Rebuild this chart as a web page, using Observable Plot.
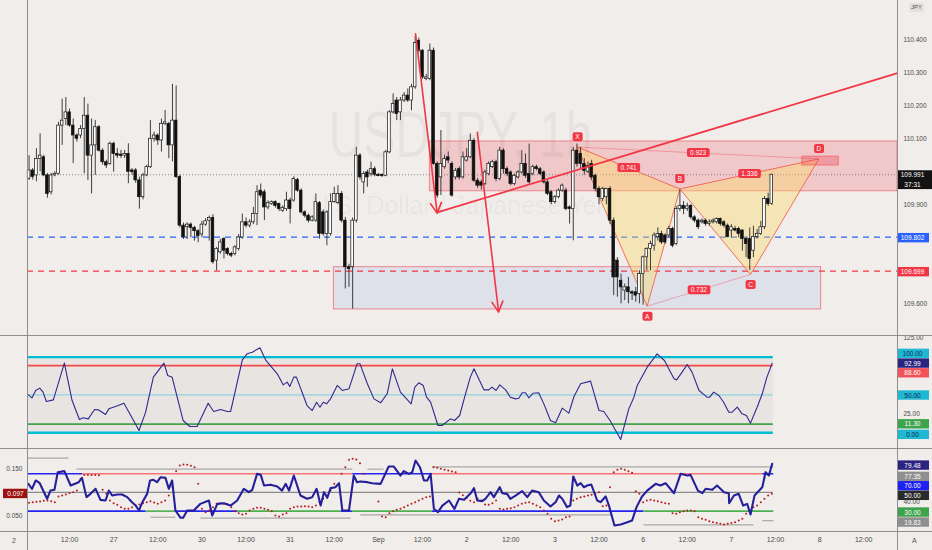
<!DOCTYPE html>
<html>
<head>
<meta charset="utf-8">
<script src="https://cdn.jsdelivr.net/npm/d3@7"></script>
<script src="https://cdn.jsdelivr.net/npm/@observablehq/plot@0.6"></script>
<style>
  html,body{margin:0;padding:0;background:#f0edeb;}
  #chart{position:relative;width:932px;height:550px;background:#f0edeb;overflow:hidden;font-family:"Liberation Sans",Arial,sans-serif;}
  .pane{position:absolute;left:0;}
  .pane svg{display:block;background:transparent;}
  .hl{position:absolute;left:0;width:932px;height:1px;background:#8f8f8f;}
  .vl{position:absolute;top:0;width:1px;height:550px;background:#8f8f8f;}
  .lbl{position:absolute;font-size:7px;color:#555;line-height:9px;}
</style>
</head>
<body>
<div id="chart"></div>
<script>
// ---------------- DATA ----------------
// hourly candles [open, high, low, close], first candle index = 1 (index 0 = Aug 26 00:00)
const candleStart = 1;
const candles = [
 [109.979,110.049,109.974,110.004],[110.004,110.010,109.975,109.984],[109.989,110.070,109.970,110.039],[110.039,110.115,110.000,110.049],[110.044,110.050,109.985,109.989],
 [109.989,109.995,109.920,109.933],[109.938,109.995,109.930,109.989],[109.989,110.000,109.985,109.994],[109.994,110.150,109.990,110.140],[110.140,110.220,110.080,110.155],
 [110.160,110.225,110.140,110.180],[110.180,110.190,110.135,110.140],[110.140,110.160,110.025,110.110],[110.110,110.115,110.090,110.100],[110.110,110.140,110.100,110.130],
 [110.130,110.225,109.994,110.170],[110.170,110.205,109.974,110.049],[110.049,110.160,109.933,110.080],[110.080,110.155,109.989,110.135],[110.135,110.140,110.060,110.064],
 [110.064,110.070,110.020,110.029],[110.029,110.035,110.010,110.019],[110.024,110.090,110.020,110.085],[110.085,110.090,109.999,110.054],[110.054,110.070,110.040,110.049],
 [110.052,110.065,110.040,110.048],[110.049,110.065,110.040,110.054],[110.054,110.085,109.964,110.000],[110.004,110.010,109.990,109.999],[110.004,110.010,109.965,109.974],
 [109.974,109.984,109.887,109.923],[109.923,109.995,109.915,109.989],[109.989,110.020,109.985,110.014],[110.014,110.155,110.010,110.100],[110.100,110.120,110.090,110.110],
 [110.110,110.115,110.080,110.095],[110.095,110.160,110.060,110.145],[110.145,110.186,110.140,110.150],[110.145,110.150,110.040,110.080],[110.080,110.265,110.030,110.155],
 [110.155,110.260,109.980,109.984],[109.984,109.990,109.830,109.837],[109.837,109.845,109.795,109.802],[109.832,109.845,109.795,109.840],[109.840,109.845,109.800,109.830],
 [109.830,109.835,109.790,109.820],[109.820,109.825,109.785,109.805],[109.810,109.850,109.800,109.840],[109.840,109.858,109.835,109.850],[109.852,109.866,109.790,109.860],
 [109.860,109.870,109.720,109.726],[109.731,109.771,109.700,109.766],[109.756,109.795,109.750,109.786],[109.796,109.800,109.736,109.761],[109.766,109.770,109.745,109.751],
 [109.751,109.756,109.740,109.746],[109.751,109.776,109.745,109.771],[109.766,109.810,109.760,109.801],[109.801,109.872,109.796,109.847],[109.847,109.860,109.830,109.837],
 [109.837,109.855,109.830,109.847],[109.847,109.892,109.840,109.872],[109.872,109.958,109.837,109.938],[109.943,109.963,109.920,109.928],[109.938,109.945,109.852,109.892],
 [109.892,109.912,109.885,109.905],[109.902,109.912,109.898,109.908],[109.908,109.912,109.890,109.897],[109.902,109.905,109.880,109.887],[109.882,109.897,109.877,109.890],
 [109.887,109.938,109.880,109.913],[109.913,109.920,109.842,109.887],[109.913,109.985,109.908,109.978],[109.975,109.980,109.938,109.943],[109.943,109.948,109.872,109.877],
 [109.877,109.882,109.860,109.867],[109.867,109.872,109.845,109.852],[109.852,109.867,109.848,109.862],[109.852,109.933,109.847,109.908],[109.905,109.910,109.796,109.812],
 [109.877,109.885,109.805,109.812],[109.812,109.882,109.776,109.877],[109.812,109.933,109.805,109.908],[109.908,109.953,109.905,109.933],[109.905,109.958,109.900,109.933],
 [109.933,109.940,109.845,109.852],[109.852,109.862,109.645,109.711],[109.711,109.720,109.650,109.705],[109.711,109.860,109.584,109.852],[109.852,110.074,109.845,110.049],
 [110.049,110.055,109.975,109.983],[109.968,110.000,109.933,109.993],[109.998,110.005,109.953,109.983],[109.993,110.029,109.985,110.008],[110.008,110.015,109.985,109.991],
 [109.991,109.995,109.985,109.987],[109.991,109.993,109.983,109.987],[109.988,110.065,109.985,110.059],[110.059,110.185,110.055,110.180],[110.180,110.236,110.175,110.205],
 [110.216,110.225,110.155,110.175],[110.180,110.225,110.155,110.216],[110.216,110.240,110.210,110.231],[110.231,110.251,110.210,110.216],[110.216,110.265,110.185,110.256],
 [110.256,110.410,110.250,110.390],[110.397,110.405,110.360,110.367],[110.367,110.370,110.280,110.286],[110.281,110.295,110.276,110.286],[110.281,110.387,110.276,110.367],
 [110.367,110.375,110.020,110.024],[110.024,110.030,109.920,109.928],[109.983,110.125,109.928,110.024],[110.014,110.050,110.008,110.039],[110.044,110.060,110.025,110.034],
 [110.024,110.030,109.923,109.928],[109.983,110.010,109.975,110.003],[110.008,110.015,109.975,109.983],[109.983,110.060,109.978,110.044],[110.034,110.070,110.030,110.044],
 [110.044,110.115,110.040,110.094],[110.094,110.100,109.968,109.973],[109.973,109.980,109.950,109.958],[109.968,109.975,109.945,109.958],[109.963,110.005,109.958,109.998],
 [109.993,110.030,109.988,110.024],[110.014,110.035,110.010,110.029],[110.029,110.035,109.970,109.978],[109.978,110.074,109.973,110.064],[110.064,110.070,109.993,110.008],
 [110.008,110.015,109.985,109.993],[109.998,110.003,109.958,109.963],[109.963,109.993,109.958,109.988],[109.983,110.003,109.978,109.998],[109.998,110.064,109.993,110.024],
 [110.024,110.054,109.980,109.988],[109.993,110.084,109.963,109.968],[109.993,110.020,109.988,110.014],[110.014,110.020,110.003,110.008],[110.008,110.013,109.988,109.993],
 [109.998,110.003,109.963,109.968],[109.968,109.973,109.928,109.933],[109.938,109.943,109.900,109.908],[109.908,109.928,109.902,109.923],[109.923,109.948,109.918,109.943],
 [109.943,109.963,109.938,109.958],[109.943,109.950,109.882,109.887],[109.892,109.897,109.842,109.887],[109.887,110.074,109.791,110.064],[110.064,110.084,110.014,110.024],
 [110.054,110.074,110.010,110.024],[110.024,110.040,109.990,110.003],[110.000,110.030,109.995,110.018],[110.024,110.035,109.975,109.983],[109.988,109.993,109.940,109.948],
 [109.948,109.955,109.900,109.923],[109.918,109.953,109.910,109.948],[109.923,109.950,109.900,109.948],[109.948,109.955,109.840,109.852],[109.852,109.860,109.625,109.680],
 [109.731,109.740,109.620,109.680],[109.670,109.690,109.600,109.650],[109.640,109.660,109.610,109.650],[109.650,109.680,109.600,109.635],[109.635,109.640,109.610,109.631],
 [109.635,109.650,109.605,109.625],[109.630,109.700,109.600,109.690],[109.690,109.745,109.596,109.741],[109.741,109.770,109.700,109.766],[109.766,109.790,109.700,109.781],
 [109.776,109.815,109.760,109.807],[109.802,109.830,109.790,109.812],[109.812,109.820,109.780,109.786],[109.807,109.812,109.780,109.786],[109.807,109.835,109.800,109.827],
 [109.827,109.832,109.770,109.776],[109.781,109.895,109.776,109.887],[109.887,109.945,109.880,109.897],[109.897,109.910,109.870,109.887],[109.888,109.905,109.880,109.895],
 [109.897,109.900,109.855,109.862],[109.862,109.867,109.845,109.852],[109.852,109.857,109.825,109.832],[109.847,109.857,109.842,109.852],[109.852,109.857,109.835,109.842],
 [109.842,109.855,109.835,109.847],[109.847,109.857,109.842,109.852],[109.847,109.860,109.842,109.857],[109.857,109.860,109.835,109.842],[109.847,109.852,109.830,109.837],
 [109.837,109.842,109.800,109.802],[109.822,109.840,109.800,109.832],[109.827,109.835,109.818,109.822],[109.827,109.832,109.800,109.812],[109.822,109.825,109.760,109.796],
 [109.796,109.800,109.740,109.781],[109.796,109.830,109.701,109.736],[109.761,109.835,109.740,109.802],[109.802,109.825,109.796,109.812],[109.812,109.850,109.807,109.832],
 [109.832,109.925,109.825,109.918],[109.918,109.935,109.895,109.902],[109.902,109.993,109.898,109.991]
];

// price axis & levels (ticks hidden under value tags are left out)
const priceTicks = [109.6, 109.9, 110.1, 110.2, 110.3, 110.4];
const hLevels = [109.991, 109.802, 109.699];          // last price, blue level, red level
const priceTagValues = [109.991, 109.802, 109.699];
const countdown = "37:31";

// zones (bar index range, price range)
const supplyZoneIdx = [110.0, 237.18];
const supplyZonePrice = [109.941, 110.092];
const demandZoneIdx = [83.9, 216.4];
const demandZonePrice = [109.583, 109.711];
const dZoneIdx = [211.3, 221.2];
const dZonePrice = [110.019, 110.046];

// arrows and trend line [idx1, price1, idx2, price2]
const arrowLines = [[106.1, 110.418, 112.0, 109.874], [122.9, 110.120, 128.7, 109.575]];
const trendLine = [[112.0, 109.877, 237.18, 110.299]];

// harmonic pattern
const patternNames = ["X", "A", "B", "C", "D"];
const patternIdx = [150.1, 169.1, 178.0, 197.2, 215.8];
const patternPrice = [110.075, 109.593, 109.948, 109.689, 110.039];
const ratioPairs = [[0, 2], [1, 3], [2, 4], [0, 4]];
const ratioLabels = ["0.741", "0.732", "1.336", "0.923"];
const thinPairs = [[1, 3], [0, 4]];

// watermark
const watermark = ["USDJPY, 1h", "U.S. Dollar / Japanese Yen"];

// oscillator 1 (0..100) [barIndex, value]
const rsiLevels = [100, 88.6, 50, 11.3, 0];
const rsiTicks = [25, 125];
const rsiTagValues = [100, 92.99, 88.60, 50, 11.30, 0];
const rsiPoints = [
 [0.8,50.1],[1.8,46.2],[2.8,55.9],[3.9,59.0],[4.8,53.7],[5.7,41.3],[7.6,43.5],[10.6,92.0],[12.7,42.6],[14.7,17.6],
 [15.7,19.8],[17.1,18.4],[18.8,30.8],[19.8,30.3],[21.8,24.2],[22.7,31.6],[24.5,34.7],[26.8,39.1],[29.0,19.8],[30.9,3.0],
 [32.7,27.2],[34.8,73.5],[37.7,92.0],[38.7,75.7],[39.9,73.5],[42.9,16.2],[44.7,8.3],[46.7,8.3],[49.7,39.1],[51.2,28.1],
 [53.1,30.8],[54.9,28.1],[55.8,28.1],[59.0,96.4],[60.3,104.3],[61.7,106.5],[63.8,112.2],[65.3,96.4],[68.5,77.9],[70.1,63.3],
 [71.2,66.9],[71.9,61.1],[73.0,73.5],[73.7,73.5],[76.6,36.0],[78.0,29.4],[79.2,40.4],[80.1,33.8],[81.0,40.4],[81.9,38.2],
 [83.0,44.8],[84.8,62.5],[86.2,55.9],[88.0,58.1],[90.2,91.1],[91.0,91.1],[93.0,64.7],[94.8,44.8],[96.6,39.6],[98.4,51.5],
 [99.8,84.5],[102.0,53.7],[104.9,38.2],[105.9,60.3],[107.0,66.0],[108.2,62.5],[109.1,47.0],[110.2,40.4],[112.2,9.6],[113.3,9.6],
 [115.6,18.4],[116.7,16.2],[118.1,22.8],[119.7,51.5],[121.0,73.5],[122.0,84.5],[124.7,56.7],[126.0,56.7],[126.9,60.3],[128.0,55.9],
 [129.0,63.3],[130.6,56.7],[131.9,47.0],[133.3,44.8],[134.2,45.7],[135.1,52.8],[136.0,52.8],[136.9,46.2],[138.1,52.3],[139.6,52.8],
 [141.0,38.2],[142.8,16.2],[144.2,13.2],[146.0,32.5],[147.8,25.9],[149.2,47.9],[151.0,64.7],[153.7,68.2],[156.0,29.4],[157.3,28.1],
 [159.0,16.2],[161.9,-8.9],[164.1,31.6],[165.5,47.0],[166.4,62.5],[169.1,86.7],[171.8,104.3],[173.8,95.5],[176.4,71.3],[177.1,69.9],
 [178.6,80.1],[180.0,90.2],[181.3,80.1],[183.2,55.9],[185.4,47.0],[186.1,47.0],[187.2,53.7],[188.6,49.2],[189.9,40.4],[191.3,27.2],
 [192.2,27.2],[193.6,33.8],[194.9,25.0],[196.1,22.8],[197.2,12.7],[199.0,33.8],[200.4,51.5],[201.6,72.6],[203.1,92.0]
];

// oscillator 2 [barIndex, value]
const oscLevels = [70, 50, 30];
const oscTicks = [40];
const oscTagValues = [79.48, 77.35, 70, 50, 30, 19.83];
const leftTicks = [0.050, 0.150];
const leftScale = 500;
const leftTagValue = 0.097;
const oscPoints = [
 [0.8,59.2],[1.8,53.9],[2.8,62.8],[3.9,59.9],[5.9,43.2],[6.8,52.0],[7.9,52.8],[8.8,71.7],[10.6,72.8],[12.3,57.4],
 [14.5,61.0],[15.4,65.6],[16.6,45.0],[17.7,48.5],[19.1,53.9],[20.4,42.1],[21.8,41.4],[22.7,52.0],[23.6,46.7],[25.0,47.8],
 [26.3,47.8],[27.7,45.0],[29.0,39.6],[30.0,36.0],[30.9,30.7],[31.8,39.6],[33.1,48.5],[33.9,62.8],[34.8,63.5],[35.8,61.0],
 [36.8,66.3],[38.1,65.6],[39.0,53.9],[39.9,62.8],[40.8,30.7],[42.2,22.9],[42.9,22.9],[44.0,30.7],[45.8,30.7],[47.6,37.8],
 [49.9,41.4],[50.8,25.3],[52.2,37.8],[54.0,38.5],[55.8,36.0],[57.6,41.4],[59.4,53.9],[60.8,50.3],[61.7,52.8],[63.0,69.9],
 [64.0,68.8],[64.9,57.4],[66.7,58.2],[68.5,56.4],[69.8,52.0],[70.8,59.2],[71.7,52.0],[73.0,68.1],[74.8,46.7],[76.6,43.2],
 [78.0,45.0],[79.2,53.9],[80.3,36.0],[81.2,50.3],[82.1,44.3],[83.0,54.6],[84.3,55.6],[85.3,59.9],[86.2,30.7],[88.0,30.7],
 [89.3,68.1],[90.2,61.0],[91.1,61.7],[93.0,61.0],[94.3,59.9],[96.6,59.2],[98.8,77.7],[100.2,77.7],[102.0,68.1],[102.9,72.8],
 [104.3,69.9],[105.2,71.7],[106.1,84.2],[107.3,77.0],[108.4,62.8],[109.3,62.8],[110.2,69.9],[111.1,32.5],[112.2,28.9],[113.4,36.0],
 [115.2,41.4],[116.7,32.5],[117.9,43.2],[119.3,42.1],[121.1,49.2],[122.0,54.6],[122.9,41.4],[124.2,40.7],[125.1,43.2],[126.5,50.3],
 [127.4,45.0],[129.0,55.6],[129.7,49.2],[131.0,48.5],[131.9,43.2],[133.3,46.7],[135.1,51.4],[136.5,45.0],[137.8,52.0],[139.6,50.3],
 [141.0,41.4],[142.8,35.0],[144.2,39.6],[145.1,46.7],[146.0,43.2],[147.3,34.3],[148.2,36.0],[149.0,67.1],[150.1,57.4],[151.0,59.9],
 [151.9,55.6],[152.8,57.4],[153.9,58.5],[155.5,41.4],[156.4,39.6],[157.8,45.7],[158.7,36.0],[160.2,14.7],[161.9,15.7],[163.7,18.2],
 [165.0,20.0],[166.2,34.3],[167.7,45.7],[169.1,52.0],[171.4,59.2],[172.7,57.4],[174.1,59.9],[176.4,49.2],[178.2,69.9],[180.0,68.1],
 [180.9,68.8],[182.9,52.0],[184.1,49.2],[185.0,53.9],[186.8,52.8],[188.1,57.4],[190.0,50.3],[191.3,49.2],[191.4,38.5],[192.7,46.7],
 [194.0,48.5],[195.2,36.0],[196.3,37.8],[197.2,26.4],[198.3,46.7],[200.4,55.6],[201.3,71.7],[202.2,68.1],[203.1,80.6]
];
// parabolic dots: [first bar index, values...]
const sarRuns = [
 [1,[38.9,39.6,40.0,40.3,41.0,41.4,40.7,39.6]], [9,[45.7,46.7,47.8,49.2,50.3,52.0]], [15,[64.6,68.8,68.8,68.8,68.8,68.5]],
 [21,[52.8,48.5,41.4,38.5,36.8,34.3,32.5]], [28,[32.5,34.3,36.0,37.1]], [32,[38.5,39.6,40.7,39.3,37.8,39.6,41.4]], [39,[46.7,55.6]],
 [41,[72.8,78.8,79.9,79.5,78.5,77.0]], [47,[59.2]], [48,[32.5,28.9,30.7,34.3,37.8,38.5,37.8,37.1,34.3]],
 [57,[30.0,27.8,26.4,27.1,30.7,32.5,33.6,33.6,32.5,31.4,30.0]], [68,[25.3,24.3,26.4,27.8]],
 [72,[32.5,34.3,35.0,35.0,35.3,35.0,34.3,36.0,39.6,43.2,46.7,52.0,59.2]], [86,[69.9,77.0,84.9,86.0,85.2,81.3]], [92,[69.9]], [96,[40.3]],
 [97,[24.3,23.6,27.8,30.0,31.4,32.5,34.3,36.0,37.8,39.6,41.4,43.2,45.0,45.7]], [111,[77.0,76.3,75.3,74.2,73.5,72.4,71.7]],
 [118,[50.0,47.0,44.0,41.0,39.6]], [123,[43.2,41.4,37.1,36.8,38.5]], [128,[41.4,32.5,31.8,32.5,33.2,34.3,36.0]],
 [135,[37.8,38.9,39.6,37.8,36.0,34.3]], [141,[30.7,27.1,21.8,19.3,20.0,21.1,23.6,24.3]], [149,[41.4,43.2,45.0,45.7,46.7,47.5,48.5,50.3]],
 [157,[35.3,36.0]], [159,[55.6]], [160,[71.7,74.2,75.3,74.2,72.8,71.0]], [166,[51.4,48.5]], [168,[39.6,41.4,42.1,41.4,40.7,39.6,38.5,37.8]],
 [176,[27.8,27.1,28.9,30.0,30.7,30.7,30.0]], [183,[23.6,21.8,20.7,19.3,18.2,17.2,16.4,15.7,16.4,17.2,18.2,20.0,21.8]],
 [196,[27.1,30.7,34.3,36.0,39.6,43.2,46.7,48.5]]
];
// level line states [from, to, state]
const upperLevelSegs = [[0,15.4,"b"],[15.4,88.9,"r"],[88.9,110.6,"b"],[110.6,200.4,"r"],[200.4,203.4,"b"]];
const lowerLevelSegs = [[0,32.7,"b"],[32.7,40.8,"g"],[40.8,57.6,"b"],[57.6,85.7,"g"],[85.7,88.9,"b"],[88.9,110.6,"g"],[110.6,168.1,"b"],[168.1,203.4,"g"]];
// pivot-like gray segments [from, to, value]
const graySegs = [[0,11.7,86.7],[13.9,88.9,74.9],[93,97.4,74.9],[110.6,203.4,77.35],[34,40.8,23.5],[47.6,88.4,22.5],[91.1,159.6,26.0],[168.1,198,15.4],[200.4,203.4,19.83]];

// time axis
const timeTickIdx = [12,24,36,48,60,72,84,96,108,120,132,144,156,168,180,192,204,216,228];
const timeTickLabel = ["12:00","27","12:00","30","12:00","31","12:00","Sep","12:00","2","12:00","3","12:00","6","12:00","7","12:00","8","12:00"];

// ---------------- LAYOUT / STYLE ----------------
const FONT = '"Liberation Sans", Arial, sans-serif';
const xDomain = [0.571, 237.18];
const mainDomain = [109.501, 110.519];
const rsiDomain = [-22.1, 127.2];
const oscDomain = [7.17, 95.94];
const RED = "#f23645";
const baseStyle = {background: "transparent", fontFamily: FONT, fontSize: "6.5px", color: "#4a4a4a", overflow: "visible"};
const common = {width: 932, marginLeft: 27, marginRight: 35, marginTop: 0, color: {type: "identity"}};

const bars = candles.map((c, k) => ({i: candleStart + k, o: c[0], h: c[1], l: c[2], c: c[3]}));
const lastBar = candleStart + candles.length - 1;
const indEnd = lastBar + 0.4;

const P = patternNames.map((n, k) => ({name: n, i: patternIdx[k], p: patternPrice[k], low: k % 2 === 1}));
const tri1 = [P[0], P[1], P[2], P[0]];
const tri2 = [P[2], P[3], P[4], P[2]];
const ratioRows = ratioPairs.map(([a, b], k) => ({i: (P[a].i + P[b].i) / 2, p: (P[a].p + P[b].p) / 2, t: ratioLabels[k]}));
const thinRows = thinPairs.map(([a, b]) => ({x1: P[a].i, y1: P[a].p, x2: P[b].i, y2: P[b].p}));

const chart = document.getElementById("chart");
function mount(top, node) {
  const d = document.createElement("div");
  d.className = "pane"; d.style.top = top + "px";
  d.appendChild(node); chart.appendChild(d);
  return node;
}
function boxes(svg, cls, styleFn) {
  const g = svg.querySelector("g." + cls);
  if (!g) return;
  const sr = svg.getBoundingClientRect();
  const layer = d3.select(svg).insert("g", () => g);
  d3.select(g).selectAll("text").each(function(_, k) {
    const r = this.getBoundingClientRect();
    const bb = {x: r.left - sr.left, y: r.top - sr.top, w: r.width, h: r.height};
    const s = styleFn(k, bb);
    layer.append("rect").attr("x", s.x).attr("y", s.y).attr("width", s.w).attr("height", s.h)
      .attr("rx", s.rx || 0).attr("fill", s.bg);
  });
}
const rightBox = (bg, w) => (k, bb) => ({x: 898, w: w || 31, y: bb.y - 1.2, h: bb.h + 2.4, bg});

// ---------------- MAIN PANE ----------------
const priceTagStyle = [{bg: "#131313", w: 34}, {bg: "#2962ff"}, {bg: RED}];
const priceTagText = [priceTagValues[0].toFixed(3) + "\n" + countdown, priceTagValues[1].toFixed(3), priceTagValues[2].toFixed(3)];
const levelStyle = [
  {stroke: "#6a6a6a", strokeDasharray: "1,2", strokeWidth: 0.8},
  {stroke: "#2962ff", strokeDasharray: "6,5", strokeWidth: 1.3},
  {stroke: RED, strokeDasharray: "6,5", strokeWidth: 1.3}
];

const main = Plot.plot({
  ...common, height: 336, marginBottom: 0,
  x: {domain: xDomain, axis: null},
  y: {domain: mainDomain, label: null},
  style: baseStyle,
  marks: [
    Plot.text([watermark[0]], {text: d => d, frameAnchor: "middle", dx: -2, dy: -31.5, fontSize: 64, fill: "#000", fillOpacity: 0.045, className: "wm1"}),
    Plot.text([watermark[1]], {text: d => d, frameAnchor: "middle", dx: -2, dy: 37, fontSize: 25, fill: "#000", fillOpacity: 0.045, className: "wm2"}),
    Plot.rect([0], {x1: demandZoneIdx[0], x2: demandZoneIdx[1], y1: demandZonePrice[0], y2: demandZonePrice[1], fill: "#9fb3e8", fillOpacity: 0.22, stroke: RED, strokeOpacity: 0.55, strokeWidth: 1}),
    Plot.rect([0], {x1: supplyZoneIdx[0], x2: supplyZoneIdx[1], y1: supplyZonePrice[0], y2: supplyZonePrice[1], fill: RED, fillOpacity: 0.2, stroke: RED, strokeOpacity: 0.5, strokeWidth: 1}),
    ...hLevels.map((v, k) => Plot.ruleY([v], levelStyle[k])),
    Plot.line(tri1, {x: "i", y: "p", fill: "#ffd95a", fillOpacity: 0.36, stroke: "#f0614f", strokeWidth: 0.9, curve: "linear"}),
    Plot.line(tri2, {x: "i", y: "p", fill: "#ffd95a", fillOpacity: 0.36, stroke: "#f0614f", strokeWidth: 0.9, curve: "linear"}),
    Plot.link(thinRows, {x1: "x1", y1: "y1", x2: "x2", y2: "y2", stroke: RED, strokeOpacity: 0.45, strokeWidth: 0.8}),
    Plot.rect([0], {x1: dZoneIdx[0], x2: dZoneIdx[1], y1: dZonePrice[0], y2: dZonePrice[1], fill: RED, fillOpacity: 0.3, stroke: RED, strokeOpacity: 0.6, strokeWidth: 0.8}),
    Plot.ruleX(bars, {x: "i", y1: "l", y2: "h", stroke: "#2a2a2a", strokeWidth: 0.9}),
    Plot.rect(bars, {x1: d => d.i - 0.36, x2: d => d.i + 0.36, y1: "o", y2: "c", fill: d => d.c >= d.o ? "#ffffff" : "#111111", stroke: "#111111", strokeWidth: 0.7}),
    Plot.arrow(arrowLines, {x1: d => d[0], y1: d => d[1], x2: d => d[2], y2: d => d[3], stroke: RED, strokeWidth: 1.6, headLength: 11, headAngle: 55}),
    Plot.link(trendLine, {x1: d => d[0], y1: d => d[1], x2: d => d[2], y2: d => d[3], stroke: RED, strokeWidth: 1.7}),
    Plot.text(ratioRows, {x: "i", y: "p", text: "t", fill: "#fff", fontSize: 6.5, className: "rtag"}),
    Plot.text(P.filter(d => !d.low), {x: "i", y: "p", text: "name", dy: -10, fill: "#fff", fontSize: 6.5, className: "ptagU"}),
    Plot.text(P.filter(d => d.low), {x: "i", y: "p", text: "name", dy: 10.5, fill: "#fff", fontSize: 6.5, className: "ptagL"}),
    Plot.axisY({anchor: "right", ticks: priceTicks, tickFormat: d3.format(".3f"), tickSize: 0, tickPadding: 6, label: null, fill: "#4a4a4a"}),
    ...priceTagValues.map((v, k) => Plot.text([v], {
      x: () => xDomain[1], y: d => d, text: () => priceTagText[k], dx: 15, fill: "#fff", fontSize: 6.5,
      lineAnchor: k === 0 ? "top" : "middle", dy: k === 0 ? -4 : 0, lineHeight: 1.45, className: "mtag" + k
    }))
  ]
});
mount(0, main);
d3.select(main).select("g.wm1 text").attr("textLength", 264).attr("lengthAdjust", "spacingAndGlyphs");
d3.select(main).select("g.wm2 text").attr("textLength", 300).attr("lengthAdjust", "spacingAndGlyphs");
const padBox = (px, py) => (k, bb) => ({x: bb.x - px, y: bb.y - py, w: bb.w + 2 * px, h: bb.h + 2 * py, rx: 2, bg: RED});
boxes(main, "rtag", padBox(3, 1));
boxes(main, "ptagU", padBox(2.5, 1));
boxes(main, "ptagL", padBox(2.5, 1));
priceTagValues.forEach((v, k) => boxes(main, "mtag" + k, rightBox(priceTagStyle[k].bg, priceTagStyle[k].w)));

// ---------------- OSCILLATOR 1 ----------------
const rsiLevelStyle = [
  {stroke: "#00bcd4", strokeWidth: 2.4}, {stroke: "#f44848", strokeWidth: 1.8}, {stroke: "#5ccfe0", strokeWidth: 0.8},
  {stroke: "#43a047", strokeWidth: 1.8}, {stroke: "#00bcd4", strokeWidth: 2.4}
];
const rsiTagStyle = [
  {bg: "#1fb8d3", fg: "#0b2a55", dy: -3.3}, {bg: "#2b2380", fg: "#fff", dy: 1.1}, {bg: "#f4525a", fg: "#fff", dy: 7.5},
  {bg: "#1fb8d3", fg: "#0b2a55", dy: 0.5}, {bg: "#3fa34d", fg: "#fff", dy: 0}, {bg: "#1fb8d3", fg: "#0b2a55", dy: 2}
];
const rsi = Plot.plot({
  ...common, height: 113, marginBottom: 0,
  x: {domain: xDomain, axis: null},
  y: {domain: rsiDomain, label: null},
  style: baseStyle,
  marks: [
    Plot.rect([0], {x1: xDomain[0], x2: indEnd, y1: rsiLevels[4], y2: rsiLevels[0], fill: "#000", fillOpacity: 0.035}),
    ...rsiLevels.map((v, k) => Plot.ruleY([v], {x1: xDomain[0], x2: indEnd, ...rsiLevelStyle[k]})),
    Plot.line(rsiPoints, {x: d => d[0], y: d => d[1], stroke: "#2e2a8f", strokeWidth: 1.1}),
    Plot.axisY({anchor: "right", ticks: rsiTicks, tickFormat: ".2f", tickSize: 0, tickPadding: 6, label: null}),
    ...rsiTagValues.map((v, k) => Plot.text([v], {
      x: () => xDomain[1], y: d => d, text: d => d.toFixed(2), dx: 15, dy: rsiTagStyle[k].dy,
      fill: rsiTagStyle[k].fg, fontSize: 6.5, className: "rsitag" + k
    }))
  ]
});
mount(336, rsi);
rsiTagValues.forEach((v, k) => boxes(rsi, "rsitag" + k, rightBox(rsiTagStyle[k].bg)));

// ---------------- OSCILLATOR 2 ----------------
const segColor = {b: "#2424f0", r: "#f77272", g: "#4caf50"};
const oscTagStyle = [
  {bg: "#2b2380", dy: 0.6}, {bg: "#8f8f8f", dy: 9.9}, {bg: "#1e22f0", dy: 12.4},
  {bg: "#2a2a2a", dy: 3.3}, {bg: "#3fa34d", dy: 1.3}, {bg: "#8f8f8f", dy: 1.8}
];
const sarRows = sarRuns.flatMap(([s, vals]) => vals.map((v, k) => ({i: s + k, v})));
const osc = Plot.plot({
  ...common, height: 101, marginBottom: 18,
  x: {domain: xDomain, label: null},
  y: {domain: oscDomain, label: null},
  style: baseStyle,
  marks: [
    Plot.ruleY([oscLevels[1]], {x1: xDomain[0], x2: indEnd, stroke: "#8a8a8a", strokeWidth: 1.3}),
    Plot.link(graySegs, {x1: d => d[0], x2: d => d[1], y1: d => d[2], y2: d => d[2], stroke: "#a8a8a8", strokeWidth: 1.2, clip: true}),
    Plot.link(upperLevelSegs, {x1: d => d[0], x2: d => d[1], y1: () => oscLevels[0], y2: () => oscLevels[0], stroke: d => segColor[d[2]], strokeWidth: 1.6, clip: true}),
    Plot.link(lowerLevelSegs, {x1: d => d[0], x2: d => d[1], y1: () => oscLevels[2], y2: () => oscLevels[2], stroke: d => segColor[d[2]], strokeWidth: 1.6, clip: true}),
    Plot.dot(sarRows, {x: "i", y: "v", r: 1, fill: "#b71c1c", stroke: null}),
    Plot.line(oscPoints, {x: d => d[0], y: d => d[1], stroke: "#25209a", strokeWidth: 2.1}),
    Plot.axisY({anchor: "right", ticks: oscTicks, tickFormat: ".2f", tickSize: 0, tickPadding: 6, label: null}),
    Plot.axisY({anchor: "left", ticks: leftTicks.map(v => v * leftScale), tickFormat: d => (d / leftScale).toFixed(3), tickSize: 0, tickPadding: 5, label: null}),
    Plot.axisX({anchor: "bottom", ticks: timeTickIdx, tickFormat: d => timeTickLabel[timeTickIdx.indexOf(d)], tickSize: 0, tickPadding: 5, fontSize: 7, label: null}),
    ...oscTagValues.map((v, k) => Plot.text([v], {
      x: () => xDomain[1], y: d => d, text: d => d.toFixed(2), dx: 15, dy: oscTagStyle[k].dy,
      fill: "#fff", fontSize: 6.5, className: "osctag" + k
    })),
    Plot.text([leftTagValue], {x: () => xDomain[0], y: d => d * leftScale, text: d => d.toFixed(3), dx: -12, fill: "#fff", fontSize: 6.5, className: "ltag"})
  ]
});
mount(449, osc);
oscTagValues.forEach((v, k) => boxes(osc, "osctag" + k, rightBox(oscTagStyle[k].bg)));
boxes(osc, "ltag", (k, bb) => ({x: 3, w: 24, y: bb.y - 1.2, h: bb.h + 2.4, bg: "#9c1010"}));

// ---------------- chrome ----------------
[335, 448, 531].forEach(t => { const d = document.createElement("div"); d.className = "hl"; d.style.top = t + "px"; chart.appendChild(d); });
[27, 897].forEach(l => { const d = document.createElement("div"); d.className = "vl"; d.style.left = l + "px"; chart.appendChild(d); });
const addLbl = (txt, l, t, extra) => { const d = document.createElement("div"); d.className = "lbl"; d.textContent = txt; d.style.left = l + "px"; d.style.top = t + "px"; if (extra) d.style.cssText += extra; chart.appendChild(d); };
addLbl("2", 12, 536);
addLbl("A", 912, 536);
addLbl("JPY", 909, 3, "padding:0 2px;background:#e2dfdd;border-radius:2px;font-size:6px;");
</script>
</body>
</html>
